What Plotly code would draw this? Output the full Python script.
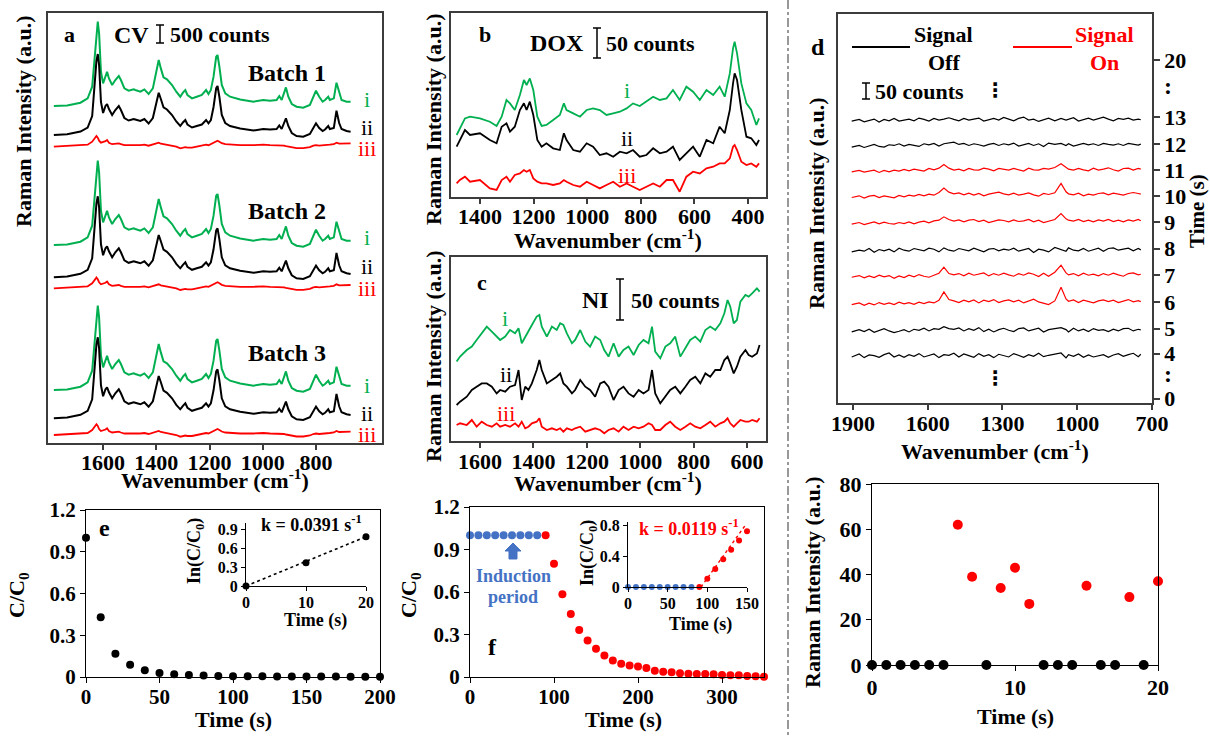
import plotly.graph_objects as go

W, H = 1210, 738
FONT = "Liberation Serif"
GREEN = "#00B050"
RED = "#FF0000"
BLUE = "#4472C4"
BLACK = "#000000"
FRAME = "#3C3C3C"


def X(p):
    return p / W


def Y(p):
    return 1 - p / H


# ---------------- data ----------------
# Panel a : crystal violet (CV), spectra i / ii / iii
CV_WN = [1785, 1735, 1685, 1658, 1641, 1633, 1625, 1620, 1615, 1608,
         1600, 1591, 1585, 1578, 1566, 1554, 1541, 1533, 1520, 1504,
         1485, 1479, 1460, 1445, 1429, 1413, 1400, 1391, 1383, 1373,
         1360, 1341, 1325, 1310, 1300, 1291, 1283, 1266, 1248, 1229,
         1213, 1204, 1195, 1185, 1175, 1170, 1163, 1154, 1141, 1123,
         1085, 1035, 998, 973, 948, 938, 929, 920, 913, 904,
         891, 873, 848, 823, 810, 800, 788, 775, 766, 754,
         748, 733, 723, 713, 704, 685, 670]
CV_I = [0.7, 1.3, 4, 8.3, 20, 46.7, 76.7, 85, 73.3, 35,
        23.3, 30.7, 35, 28.3, 21.7, 26.7, 30.7, 26.7, 18.3, 16,
        17.3, 16.7, 15, 17.3, 12.7, 18.3, 36.7, 46.7, 38.3, 29.3,
        27.3, 21.7, 15, 10, 14, 16.7, 11.7, 8.3, 10, 11.7,
        16.7, 12.7, 16.7, 30, 50, 51.7, 40, 21.7, 13.3, 10,
        7.3, 5, 6.7, 6, 6.7, 10.7, 6.7, 13.3, 19.3, 10,
        2.7, 0, -1, 1.7, 10, 16, 10, 5, 6.7, 10,
        6.7, 8.3, 24, 13.3, 6.7, 5, 5]
CV_II = [0, 0.7, 3.5, 7.5, 19, 45, 74, 81, 70, 33,
         22, 29, 31, 26, 20, 25, 29, 25, 17, 14.5,
         16, 15.5, 14, 16, 11.5, 17, 34, 42.3, 36, 27.7,
         25.5, 20, 13.5, 9, 12.5, 15, 10.5, 7.5, 9, 10.5,
         15, 11.7, 15, 28, 47, 49, 38, 20, 12, 9,
         6.5, 4.5, 6, 5.5, 6, 9.5, 6, 12, 16.7, 9,
         2, -1, -1.7, 1, 7, 11.7, 7, 4, 5.5, 9,
         6, 7, 24.3, 12, 6, 4, 3.3]
CV_III = [0, 0.5, 1, 2, 5, 8, 10.7, 9, 6, 4,
          4.5, 5.5, 6.7, 4, 2.5, 3, 3.3, 2.5, 1.5, 1.5,
          2, 1.5, 1.5, 2, 1, 2, 3.5, 4, 3, 2.5,
          2, 1, 0, -1.7, -1, -0.5, -1, -1, 0, 1,
          2, 1.5, 2.5, 4, 5.5, 6, 5, 3.5, 2.5, 2,
          1.5, 1.5, 2, 1.5, 1.5, 1, 1.5, 1, 0.5, 0,
          -1, -1.5, -1.5, -0.5, 1, 1.5, 1, 1.5, 2, 2.5,
          2, 2.5, 4, 3, 3, 3.3, 3.3]
CV_TICKS = [1600, 1400, 1200, 1000, 800]
BATCH_LABELS = ["Batch 1", "Batch 2", "Batch 3"]

# Panel b : DOX
DOX_WN = [1487, 1475, 1456, 1437, 1400, 1363, 1338, 1319, 1301, 1288,
          1270, 1251, 1236, 1226, 1214, 1201, 1186, 1170, 1152, 1127,
          1102, 1087, 1077, 1052, 1027, 1002, 978, 953, 928, 903,
          878, 853, 829, 804, 779, 754, 729, 704, 680, 655,
          630, 605, 580, 555, 530, 506, 487, 468, 456, 450,
          441, 425, 406, 388, 369, 359]
DOX_I = [1.7, 8.3, 18.3, 20, 18.3, 15, 10.7, 20, 36.7, 33.3,
         26.7, 41.7, 56.7, 51.7, 58.3, 46.7, 20, 10.7, 11.7, 16.7,
         21.7, 33.3, 26.7, 23.3, 20, 26.7, 28.3, 26.7, 21.7, 23.3,
         25, 28.3, 33.3, 30.7, 35, 40, 36.7, 38.3, 46.7, 36.7,
         50, 45, 36.7, 46.7, 41.7, 50, 40, 63.3, 88.3, 95,
         83.3, 53.3, 33.3, 26.7, 11.7, 18.3]
DOX_II = [13.3, 20, 30, 25, 26.7, 20, 16.7, 33.3, 36.7, 28.3,
          33.3, 50, 56.7, 50, 58.3, 45, 20, 13.3, 16.7, 11.7,
          10, 26.7, 20, 10, 8.3, 16.7, 13.3, 5, 6.7, 3.3,
          8.3, 6.7, 10, 3.3, 5, 11.7, 6.7, 8.3, 13.3, 0,
          6.7, 13.3, 3.3, 20, 16.7, 33.3, 26.7, 50, 76.7, 86.7,
          80, 50, 23.3, 21.7, 15, 20]
DOX_III = [8.3, 11.7, 15, 10, 11.7, 3.3, 1.7, 11.7, 15, 10,
           16.7, 18.3, 21.7, 20, 21.7, 13.3, 10, 8.3, 8.3, 6.7,
           8.3, 11.7, 10, 6.7, 5, 10, 6.7, 3.3, 6.7, 10,
           5, 8.3, 5, 1.7, 5, 8.3, 5, 11.7, 11.7, 0,
           15, 20, 18.3, 23.3, 25, 28.3, 28.3, 33.3, 45, 46.7,
           41.7, 30, 26.7, 28.3, 25, 28.3]
DOX_TICKS = [1400, 1200, 1000, 800, 600, 400]

# Panel c : NI
NI_WN = [1688, 1675, 1650, 1631, 1613, 1594, 1575, 1556, 1538, 1525,
         1506, 1488, 1469, 1456, 1444, 1431, 1419, 1406, 1388, 1378,
         1369, 1350, 1331, 1313, 1300, 1288, 1275, 1256, 1244, 1225,
         1206, 1188, 1169, 1150, 1135, 1119, 1100, 1081, 1063, 1044,
         1025, 1006, 988, 969, 956, 944, 925, 906, 888, 869,
         850, 831, 813, 794, 775, 756, 738, 719, 700, 685,
         673, 663, 650, 638, 625, 606, 594, 581, 563, 553]
NI_I = [1.7, 6.7, 13.3, 16.7, 23.3, 30, 36.7, 31.7, 26.7, 23.3,
        26.7, 33.3, 30, 35, 20, 26.7, 31.7, 38.3, 46.7, 48.3,
        36.7, 26.7, 36.7, 33.3, 40, 38.3, 30, 20, 23.3, 33.3,
        21.7, 16.7, 26.7, 23.3, 13.3, 6.7, 20, 6.7, 13.3, 16.7,
        8.3, 18.3, 23.3, 20, 36.7, 11.7, 5, 16.7, 20, 26.7,
        6.7, 15, 23.3, 26.7, 21.7, 33.3, 36.7, 33.3, 40, 50,
        63.3, 56.7, 40, 43.3, 61.7, 68.3, 66.7, 70, 75, 71.7]
NI_II = [1.7, 5, 10, 16.7, 20, 23.3, 23.3, 20, 13.3, 16.7,
         15, 20, 21.7, 36.7, 6.7, 20, 16.7, 23.3, 36.7, 46.7,
         36.7, 23.3, 26.7, 30, 33.3, 23.3, 20, 13.3, 16.7, 26.7,
         20, 16.7, 10, 23.3, 25, 20, 6.7, 16.7, 20, 13.3,
         10, 16.7, 13.3, 16.7, 36.7, 13.3, 3.3, 10, 16.7, 20,
         13.3, 20, 26.7, 30, 23.3, 33.3, 30, 36.7, 36.7, 46.7,
         50, 43.3, 33.3, 40, 50, 56.7, 51.7, 50, 53.3, 61.7]
NI_III = [10, 11.7, 10, 15, 8.3, 13.3, 10, 8.3, 11.7, 8.3,
          10, 8.3, 11.7, 8.3, 13.3, 6.7, 8.3, 11.7, 13.3, 16.7,
          8.3, 5, 6.7, 5, 6.7, 3.3, 6.7, 5, 6.7, 8.3,
          3.3, 5, 6.7, 5, 1.7, 5, 6.7, 3.3, 8.3, 5,
          8.3, 6.7, 8.3, 11.7, 10, 5, 5, 10, 13.3, 8.3,
          5, 8.3, 11.7, 8.3, 6.7, 10, 13.3, 8.3, 11.7, 13.3,
          16.7, 11.7, 8.3, 11.7, 15, 13.3, 13.3, 15, 13.3, 16.7]
NI_TICKS = [1600, 1400, 1200, 1000, 800, 600]

# Panel d : time-resolved spectra (counts, relative to each baseline)
D_WN = [1905, 1875, 1855, 1835, 1815, 1795, 1775, 1755, 1735, 1715,
        1695, 1675, 1655, 1635, 1615, 1595, 1575, 1555, 1535, 1515,
        1495, 1475, 1455, 1435, 1415, 1395, 1375, 1355, 1335, 1315,
        1295, 1275, 1255, 1235, 1215, 1195, 1175, 1155, 1135, 1115,
        1090, 1065, 1045, 1035, 1015, 995, 975, 955, 935, 915,
        895, 875, 855, 835, 815, 795, 775, 755, 745]
D_T4 = [-4, 5, -6, 2, 0, -5, 3, 8, -4, 2, -5, 3, -2, 6, -4, 0, 5, -6, 3, 1,
        7, -4, 5, 0, -5, 6, -2, 3, -6, 4, 1, -4, 6, 0, -5, 3, -2, 7, -3, 1,
        4, 8, -7, 3, -2, 5, -5, 2, -4, 0, 3, -5, 2, 6, -2, 3, 7, -3, 4]
D_T5 = [-5, 2, -4, 3, -6, 0, 5, -2, -7, -3, 2, -5, 3, 0, 6, -2, 5, 3, 11, 5,
        3, 7, -2, 5, 0, 8, -4, 3, -5, 2, 6, 0, -4, 5, 7, -2, 3, 6, -5, 2,
        5, 8, 2, -5, 6, -2, 3, -4, 5, 0, 2, -4, 3, -2, 5, 6, -2, 3, 1]
D_T6 = [-8, -3, -10, -4, -9, -2, -7, -3, -8, -1, -6, -2, -7, -1, -5, 0, -3, 5, 30, 7,
        3, -2, 5, 0, 6, -3, 5, 1, 7, -2, 3, 6, 0, 5, -3, 2, 8, 0, -4, -8,
        3, 44, 9, 2, 6, -2, 5, 0, -3, 3, 6, 1, 5, -2, 3, 7, 0, 4, 1]
D_T7 = [-6, -1, -8, -2, -7, 0, -5, -1, -9, -2, -7, 0, -5, 2, -3, -6, 0, 6, 24, 5,
        1, 5, -2, 6, 0, 3, 7, -2, 5, 0, 6, 1, -3, 5, 0, 7, 3, -4, 6, -3,
        9, 30, 7, 1, 5, -2, 6, 0, 3, -2, 5, 0, 6, 1, -3, 5, 7, 1, 3]
D_T8 = [-5, 0, -3, 5, -6, 2, -2, 3, -5, 6, 0, -3, 5, 2, -2, 6, 3, -5, 7, 0,
        -3, 5, 2, -2, 6, 0, -5, 3, 5, -2, 3, 0, 6, -3, 2, 5, -7, 3, 0, -5,
        8, 3, -3, 7, 0, -2, 5, -3, 2, 6, -3, 5, 7, 0, 3, 6, -2, 5, 1]
D_T9 = [-7, -2, -8, -3, 0, -6, -1, -5, -7, -2, -5, 0, -6, -1, 2, -3, 3, 5, 15, 7,
        2, 6, 0, 5, 7, 1, 5, -2, 3, 6, 4, 0, 6, 1, 3, 7, 0, 5, -2, 3,
        7, 25, 9, 5, 2, 7, 1, 5, 0, 6, 2, 7, 1, 5, 0, 6, 2, 7, 3]
D_T10 = [-7, -2, -9, -3, -1, -7, -2, -6, -8, -1, -5, 0, -3, 2, -2, 3, 0, 8, 21, 9,
         4, 7, 1, 6, 0, 5, -2, 3, 6, 9, 4, 1, 6, 0, 3, 7, 1, -3, 5, 2,
         7, 35, 10, 4, 1, 6, -2, 3, 0, 5, 7, 1, 6, 3, 0, 5, 8, 5, 3]
D_T11 = [-5, -1, -6, -2, 0, -7, -1, -5, 0, -3, 2, -2, 3, 0, -3, 5, 1, 6, 17, 6,
         0, 3, -2, 5, 1, 0, 6, 3, -2, 5, 3, 0, 5, 1, -3, 6, 1, 0, 5, 3,
         8, 19, 7, 3, 0, 5, 1, -2, 6, 0, 3, 7, 1, -3, 5, 6, 0, 5, 3]
D_T12 = [-5, 0, -6, -1, 3, -3, -5, 2, 0, 5, -2, 3, 0, -3, 5, 2, 6, -2, 5, 8,
         10, 3, 6, 0, 5, 2, -2, 3, 6, 0, 5, 2, 7, -2, 3, 6, 0, 5, -3, 7,
         3, 6, 0, 5, -2, 3, 6, 2, 5, 0, 6, 3, 1, 5, 0, 6, 3, 1, 4]
D_T13 = [-3, 2, -5, 0, 3, -6, 2, -2, 5, -3, 0, 3, -2, 6, 2, -3, 5, 0, 3, 7,
         2, -2, 5, 0, 3, 6, -3, 2, 5, 0, 8, 3, -2, 5, 9, 0, 3, -4, 2, 6,
         -2, 5, 0, 3, 7, -3, 2, 6, 0, 5, 9, 3, -2, 5, 2, 6, 0, 3, 1]
D_TIMES = [4, 5, 6, 7, 8, 9, 10, 11, 12, 13]
D_SPECTRA = [D_T4, D_T5, D_T6, D_T7, D_T8, D_T9, D_T10, D_T11, D_T12, D_T13]
D_ON_TIMES = [6, 7, 9, 10, 11]
D_TICKS = [1900, 1600, 1300, 1000, 700]
TIME_LABELS = ["0", "4", "5", "6", "7", "8", "9", "10", "11", "12", "13", "20"]

# Panel e : CV degradation
E_T = [0, 10, 20, 30, 40, 50, 60, 70, 80, 90, 100, 110, 120, 130, 140, 150, 160, 170, 180, 190, 200]
E_C = [1.0, 0.43, 0.167, 0.088, 0.048, 0.029, 0.019, 0.014, 0.010, 0.007, 0.006,
       0.005, 0.005, 0.004, 0.004, 0.003, 0.003, 0.003, 0.002, 0.002, 0.002]
E_IN_T = [0, 10, 20]
E_IN_LN = [0, 0.37, 0.78]
E_FIT_T = [0, 20]
E_FIT_LN = [0, 0.782]

# Panel f : degradation with induction period
F_T_IND = [0, 10, 20, 30, 40, 50, 60, 70, 80]
F_C_IND = [1.0, 1.0, 1.0, 1.0, 1.0, 1.0, 1.0, 1.0, 1.0]
F_T_DEG = [90, 100, 110, 120, 130, 140, 150, 160, 170, 180, 190, 200, 210, 220,
           230, 240, 250, 260, 270, 280, 290, 300, 310, 320, 330, 340, 350]
F_C_DEG = [1.0, 0.80, 0.584, 0.444, 0.332, 0.257, 0.199, 0.152, 0.117, 0.093, 0.082,
           0.075, 0.063, 0.044, 0.037, 0.033, 0.026, 0.023, 0.021, 0.021, 0.019,
           0.014, 0.012, 0.012, 0.007, 0.005, 0.002]
F_IN_T_IND = [0, 10, 20, 30, 40, 50, 60, 70, 80]
F_IN_LN_IND = [0, 0, 0, 0, 0, 0, 0, 0, 0]
F_IN_T_DEG = [90, 100, 110, 120, 130, 140, 150]
F_IN_LN_DEG = [0, 0.108, 0.234, 0.36, 0.48, 0.60, 0.72]
F_FIT_T = [92, 148]
F_FIT_LN = [0, 0.80]

# Panel g : peak intensity vs time
G_T_OFF = [0, 1, 2, 3, 4, 5, 8, 12, 13, 14, 16, 17, 19]
G_I_OFF = [0, 0, 0, 0, 0, 0, 0, 0, 0, 0, 0, 0, 0]
G_T_ON = [6, 7, 9, 10, 11, 15, 18, 20]
G_I_ON = [62, 39, 34, 43, 27, 35, 30, 37]

# ---------------- layout constants (pixel positions) ----------------
A_OFF = [(336.3, 308.0, 296.3), (197.3, 165.7, 154.7), (52.3, 24.7, 8.0)]
B_OFF = (60.3, 37.0, 5.3)
C_OFF = (77.7, 34.3, 6.0)
D_BASE = [142, 218, 303, 383, 458, 543, 623, 698, 772, 848]
TIME_POS = [13, 148, 223, 303, 383, 463, 543, 620, 698, 776, 856, 1028]

fig = go.Figure()


def add_line(x, y, xa, ya, color, width, dash=None):
    fig.add_trace(go.Scatter(x=x, y=y, xaxis=xa, yaxis=ya, mode="lines",
                             line=dict(color=color, width=width, dash=dash),
                             hoverinfo="skip", showlegend=False))


def add_pts(x, y, xa, ya, color, size):
    fig.add_trace(go.Scatter(x=x, y=y, xaxis=xa, yaxis=ya, mode="markers",
                             marker=dict(color=color, size=size, line=dict(width=0)),
                             cliponaxis=False, hoverinfo="skip", showlegend=False))


# panel a
for og, ok, orr in A_OFF:
    add_line(CV_WN, [v + og for v in CV_I], "x", "y", GREEN, 2)
    add_line(CV_WN, [v + ok for v in CV_II], "x", "y", BLACK, 2)
    add_line(CV_WN, [v + orr for v in CV_III], "x", "y", RED, 1.8)
# panel b
add_line(DOX_WN, [v + B_OFF[0] for v in DOX_I], "x2", "y2", GREEN, 1.8)
add_line(DOX_WN, [v + B_OFF[1] for v in DOX_II], "x2", "y2", BLACK, 1.8)
add_line(DOX_WN, [v + B_OFF[2] for v in DOX_III], "x2", "y2", RED, 1.8)
# panel c
add_line(NI_WN, [v + C_OFF[0] for v in NI_I], "x3", "y3", GREEN, 1.8)
add_line(NI_WN, [v + C_OFF[1] for v in NI_II], "x3", "y3", BLACK, 1.8)
add_line(NI_WN, [v + C_OFF[2] for v in NI_III], "x3", "y3", RED, 1.8)
# panel d
for t, spec, base in zip(D_TIMES, D_SPECTRA, D_BASE):
    col = RED if t in D_ON_TIMES else BLACK
    add_line(D_WN, [v + base for v in spec], "x4", "y4", col, 1.2)
# panel e
add_pts(E_T, E_C, "x6", "y6", BLACK, 8)
add_line(E_FIT_T, E_FIT_LN, "x7", "y7", BLACK, 1.6, "dot")
add_pts(E_IN_T, E_IN_LN, "x7", "y7", BLACK, 7)
# panel f
add_pts(F_T_IND, F_C_IND, "x8", "y8", BLUE, 8)
add_pts(F_T_DEG, F_C_DEG, "x8", "y8", RED, 8)
add_line(F_FIT_T, F_FIT_LN, "x9", "y9", RED, 1.4, "dot")
add_pts(F_IN_T_IND, F_IN_LN_IND, "x9", "y9", BLUE, 6)
add_pts(F_IN_T_DEG, F_IN_LN_DEG, "x9", "y9", RED, 6)
# panel g
add_pts(G_T_OFF, G_I_OFF, "x10", "y10", BLACK, 10)
add_pts(G_T_ON, G_I_ON, "x10", "y10", RED, 10)


def axis(size, color, lw, ticklen=5):
    return dict(showgrid=False, zeroline=False, showline=True, linecolor=color,
                linewidth=lw, ticks="outside", tickcolor=color, tickwidth=lw,
                ticklen=ticklen, fixedrange=True, automargin=False,
                tickfont=dict(family=FONT, size=size, color=BLACK, weight="bold"))


def xdom(l, r):
    return [X(l), X(r)]


def ydom(b, t):
    return [Y(b), Y(t)]


layout = dict(width=W, height=H,
              margin=dict(l=0, r=0, t=0, b=0, pad=0, autoexpand=False),
              paper_bgcolor="white", plot_bgcolor="white", showlegend=False)

# a
layout["xaxis"] = dict(axis(22, FRAME, 1.5), domain=xdom(48, 382), range=[1807, 552],
                       tickvals=CV_TICKS, mirror=True, anchor="y", ticklabelstandoff=-6)
layout["yaxis"] = dict(axis(22, FRAME, 1.5), domain=ydom(443, 13), range=[0, 430],
                       showticklabels=False, ticks="", mirror=True, anchor="x")
# b
layout["xaxis2"] = dict(axis(22, FRAME, 1.5), domain=xdom(451, 766), range=[1508, 333],
                        tickvals=DOX_TICKS, mirror=True, anchor="y2", ticklabelstandoff=-6)
layout["yaxis2"] = dict(axis(22, FRAME, 1.5), domain=ydom(197, 13), range=[0, 184],
                        showticklabels=False, ticks="", mirror=True, anchor="x2")
# c
layout["xaxis3"] = dict(axis(22, FRAME, 1.5), domain=xdom(451, 766), range=[1709, 529],
                        tickvals=NI_TICKS, mirror=True, anchor="y3", ticklabelstandoff=-5)
layout["yaxis3"] = dict(axis(22, FRAME, 1.5), domain=ydom(441, 257), range=[0, 184],
                        showticklabels=False, ticks="", mirror=True, anchor="x3")
# d
layout["xaxis4"] = dict(axis(22, FRAME, 1.5), domain=xdom(838, 1152), range=[1960, 700],
                        tickvals=D_TICKS, mirror=True, anchor="y4", ticklabelstandoff=-5)
layout["yaxis4"] = dict(axis(22, FRAME, 1.5, 6), domain=ydom(403, 14), range=[0, 1166],
                        side="right", tickvals=TIME_POS, ticktext=TIME_LABELS,
                        mirror=True, anchor="x4")
# e
layout["xaxis6"] = dict(axis(21, BLACK, 1.3), domain=xdom(86, 380), range=[0, 200],
                        tickvals=[0, 50, 100, 150, 200], mirror=True, anchor="y6",
                        ticklabelstandoff=-4)
layout["yaxis6"] = dict(axis(21, BLACK, 1.3), domain=ydom(677, 510), range=[0, 1.2],
                        tickvals=[0, 0.3, 0.6, 0.9, 1.2], mirror=True, anchor="x6")
layout["xaxis7"] = dict(axis(16, BLACK, 1.2, 4), domain=xdom(246, 366), range=[0, 20],
                        tickvals=[0, 10, 20], anchor="y7", ticklabelstandoff=-2)
layout["yaxis7"] = dict(axis(16, BLACK, 1.2, 4), domain=ydom(586, 523), range=[0, 1.0],
                        tickvals=[0, 0.3, 0.6, 0.9], anchor="x7")
# f
layout["xaxis8"] = dict(axis(21, BLACK, 1.3), domain=xdom(470, 764), range=[0, 350],
                        tickvals=[0, 100, 200, 300], mirror=True, anchor="y8",
                        ticklabelstandoff=-4)
layout["yaxis8"] = dict(axis(21, BLACK, 1.3), domain=ydom(677, 507), range=[0, 1.2],
                        tickvals=[0, 0.3, 0.6, 0.9, 1.2], mirror=True, anchor="x8")
layout["xaxis9"] = dict(axis(16, BLACK, 1.2, 4), domain=xdom(628, 747), range=[0, 150],
                        tickvals=[0, 50, 100, 150], anchor="y9", ticklabelstandoff=-2)
layout["yaxis9"] = dict(axis(16, BLACK, 1.2, 4), domain=ydom(587, 522), range=[0, 0.84],
                        tickvals=[0, 0.4, 0.8], anchor="x9")
# g
layout["xaxis10"] = dict(axis(22, BLACK, 1.3), domain=xdom(872, 1158), range=[0, 20],
                         tickvals=[0, 10, 20], mirror=True, anchor="y10",
                         ticklabelstandoff=-3)
layout["yaxis10"] = dict(axis(22, BLACK, 1.3), domain=ydom(665, 484), range=[0, 80],
                         tickvals=[0, 20, 40, 60, 80], mirror=True, anchor="x10")

ann = []


def txt(x, y, s, size=22, color=BLACK, bold=True, angle=0, xanchor="center", family=FONT):
    ann.append(dict(x=X(x), y=Y(y), xref="paper", yref="paper", text=s, showarrow=False,
                    textangle=angle, xanchor=xanchor, yanchor="middle",
                    font=dict(family=family, size=size, color=color,
                              weight="bold" if bold else "normal")))


WAVE = "Wavenumber (cm<sup>-1</sup>)"
RAMAN = "Raman Intensity (a.u.)"
CC0 = "C/C<sub>0</sub>"
LNC = "In(C/C<sub>0</sub>)"

# panel a texts
txt(69, 35, "a", 22)
txt(131, 35, "CV", 24)
txt(168, 35, "500 counts", 22, xanchor="left")
for lab, yy in zip(BATCH_LABELS, [73, 211, 353]):
    txt(287, yy, lab, 24)
for (yi, yii, yiii) in [(100, 127, 149), (238, 266, 288), (385, 413, 434)]:
    txt(367, yi, "i", 22, GREEN, False)
    txt(367, yii, "ii", 22, BLACK, False)
    txt(367, yiii, "iii", 22, RED, False)
txt(215, 479, WAVE, 22)
txt(23, 122, RAMAN, 22, angle=-90)

# panel b texts
txt(485, 35, "b", 22)
txt(557, 43, "DOX", 24)
txt(604, 43, "50 counts", 22, xanchor="left")
txt(627, 90, "i", 22, GREEN, False)
txt(627, 138, "ii", 22, BLACK, False)
txt(627, 175, "iii", 22, RED, False)
txt(608, 239, WAVE, 22)
txt(433, 120, RAMAN, 22, angle=-90)

# panel c texts
txt(482, 282, "c", 22)
txt(595, 300, "NI", 24)
txt(629, 300, "50 counts", 22, xanchor="left")
txt(505, 318, "i", 22, GREEN, False)
txt(506, 374, "ii", 22, BLACK, False)
txt(506, 413, "iii", 22, RED, False)
txt(608, 482, WAVE, 22)
txt(433, 357, RAMAN, 22, angle=-90)

# panel d texts
txt(818, 47, "d", 24)
txt(943, 35, "Signal", 22)
txt(944, 62, "Off", 22)
txt(1104, 35, "Signal", 22, RED)
txt(1104, 62, "On", 22, RED)
txt(873, 91, "50 counts", 22, xanchor="left")
txt(995, 450, WAVE, 22)
txt(817, 204, RAMAN, 22, angle=-90)
txt(1197, 211, "Time (s)", 21, angle=-90)
txt(995, 90, "\u22ee", 20, family="DejaVu Sans")
txt(995, 378, "\u22ee", 20, family="DejaVu Sans")
txt(1168, 86, ":", 24)
txt(1168, 374, ":", 24)

# panel e texts
txt(104, 528, "e", 24)
txt(311, 523, "k = 0.0391 s<sup>-1</sup>", 18)
txt(233, 719, "Time (s)", 22)
txt(18, 595, CC0, 22, angle=-90)
txt(195, 551, LNC, 18, angle=-90)
txt(315, 620, "Time (s)", 18)

# panel f texts
txt(492, 647, "f", 24)
txt(513, 576, "Induction", 18, BLUE)
txt(513, 597, "period", 18, BLUE)
txt(689, 527, "k = 0.0119 s<sup>-1</sup>", 18, RED)
txt(623, 719, "Time (s)", 22)
txt(410, 595, CC0, 22, angle=-90)
txt(588, 553, LNC, 18, angle=-90)
txt(700, 624, "Time (s)", 18)

# panel g texts
txt(1015, 716, "Time (s)", 22)
txt(812, 583, RAMAN, 22, angle=-90)

layout["annotations"] = ann

shapes = []


def pline(x0, y0, x1, y1, color=BLACK, width=1.5, dash=None):
    shapes.append(dict(type="line", xref="paper", yref="paper", x0=X(x0), y0=Y(y0),
                       x1=X(x1), y1=Y(y1), line=dict(color=color, width=width, dash=dash)))


def scalebar(x, y0, y1, half=4):
    pline(x, y0, x, y1, BLACK, 1.5)
    pline(x - half, y0, x + half, y0, BLACK, 1.5)
    pline(x - half, y1, x + half, y1, BLACK, 1.5)


scalebar(160, 25, 43)
scalebar(597, 28, 58)
scalebar(620, 279, 320)
scalebar(866, 83, 99)
# legend samples in d
pline(852, 47, 910, 47, BLACK, 2)
pline(1013, 47, 1072, 47, RED, 2)
# divider
pline(788, 0, 788, 738, "#555555", 1.2, "dashdot")
# induction arrow
pts = [(513, 543), (521, 551), (517, 551), (517, 559), (509, 559), (509, 551), (505, 551)]
path = "M " + " L ".join(f"{X(a):.5f},{Y(b):.5f}" for a, b in pts) + " Z"
shapes.append(dict(type="path", xref="paper", yref="paper", path=path,
                   fillcolor=BLUE, line=dict(color=BLUE, width=1)))
layout["shapes"] = shapes

fig.update_layout(**layout)
fig.write_html("out.html", config={"displayModeBar": False},
               post_script="document.body.style.margin='0';")
